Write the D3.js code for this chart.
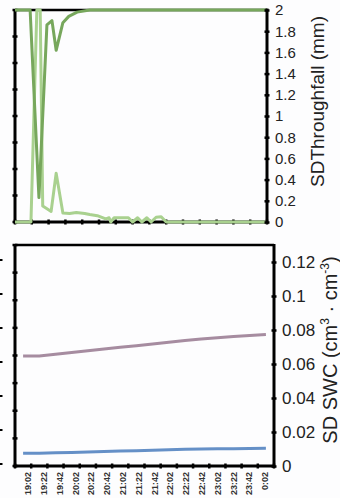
<!DOCTYPE html>
<html>
<head>
<meta charset="utf-8">
<script src="https://cdn.jsdelivr.net/npm/d3@7"></script>
<style>
  html, body { margin: 0; padding: 0; background: #fdfdfe; }
  svg { display: block; font-family: "Liberation Sans", Arial, sans-serif; }
</style>
</head>
<body>
<svg id="chart" width="340" height="498"></svg>
<script>
// ---- Throughfall SD (top panel): minutes after 19:02 and values in mm ----
const tfDarkMinutes = [0, 18, 28.5, 38, 44, 49, 57, 64, 74, 89, 300];
const tfDarkValues  = [2.0, 2.0, 0.23, 1.86, 1.90, 1.62, 1.88, 1.94, 1.98, 2.0, 2.0];

const tfLightMinutes = [0, 19, 26, 30, 33, 39, 43, 49, 57, 65, 73, 83, 89, 98, 108, 112, 114, 118, 135, 140, 146, 151, 157, 162, 168, 174, 180, 300];
const tfLightValues  = [0, 0, 2.0, 2.0, 0.15, 0.12, 0.10, 0.46, 0.085, 0.08, 0.09, 0.08, 0.07, 0.06, 0.03, 0.04, 0, 0.04, 0.04, 0, 0.04, 0, 0.04, 0, 0.045, 0.05, 0, 0];

const tfTicks = [0, 0.2, 0.4, 0.6, 0.8, 1, 1.2, 1.4, 1.6, 1.8, 2];

// ---- Soil water content SD (bottom panel) ----
const timeLabels = ["19:02", "19:22", "19:42", "20:02", "20:22", "20:42", "21:02", "21:22",
                    "21:42", "22:02", "22:22", "22:42", "23:02", "23:22", "23:42", "0:02"];
const swcUpper = [0.0647, 0.0647, 0.0658, 0.0668, 0.0678, 0.0688, 0.0698, 0.0708,
                  0.0718, 0.0728, 0.0738, 0.0747, 0.0755, 0.0762, 0.0768, 0.0773];
const swcLower = [0.0075, 0.0075, 0.0078, 0.0080, 0.0082, 0.0085, 0.0088, 0.0090,
                  0.0092, 0.0095, 0.0098, 0.0100, 0.0101, 0.0102, 0.0103, 0.0104];
const swcTicks = [0, 0.02, 0.04, 0.06, 0.08, 0.1, 0.12];

const svg = d3.select("#chart");
const fmt = d => String(+d.toFixed(2));

const darkGreen = "#77a75c";
const lightGreen = "#a9d18f";
const mauve = "#a68ca0";
const blue = "#6590c7";

// ===================== top panel =====================
const T = { left: 15, right: 267, top: 10, bottom: 222 };
const xT = d3.scaleLinear().domain([0, 300]).range([T.left, T.right]);
const yT = d3.scaleLinear().domain([0, 2]).range([T.bottom, T.top]);
const gT = svg.append("g");

// frame
gT.append("line").attr("x1", T.left).attr("x2", T.right).attr("y1", T.top).attr("y2", T.top)
  .attr("stroke", "#000").attr("stroke-width", 2.5);
gT.append("line").attr("x1", T.left).attr("x2", T.left).attr("y1", T.top - 1).attr("y2", T.bottom + 1.5)
  .attr("stroke", "#000").attr("stroke-width", 3);
gT.append("line").attr("x1", T.left).attr("x2", T.right).attr("y1", T.bottom).attr("y2", T.bottom)
  .attr("stroke", "#000").attr("stroke-width", 3);

// left-axis tick marks (8 divisions)
const leftDivT = d3.scaleLinear().domain([0, 8]).range([T.bottom, T.top]);
gT.selectAll(".lt").data(d3.range(0, 9)).join("line")
  .attr("x1", T.left - 2.5).attr("x2", T.left + 2.5)
  .attr("y1", d => leftDivT(d)).attr("y2", d => leftDivT(d))
  .attr("stroke", "#000").attr("stroke-width", 2.5);

// bottom tick marks every 20 minutes
gT.selectAll(".bt").data(d3.range(0, 301, 20)).join("line")
  .attr("x1", d => xT(d)).attr("x2", d => xT(d))
  .attr("y1", T.bottom - 2.5).attr("y2", T.bottom + 2.5)
  .attr("stroke", "#000").attr("stroke-width", 2.5);

// series
const lineT = d3.line().x(d => xT(d[0])).y(d => yT(d[1]));
gT.append("path").datum(d3.zip(tfLightMinutes, tfLightValues))
  .attr("d", lineT).attr("fill", "none").attr("stroke", lightGreen)
  .attr("stroke-width", 3).attr("stroke-linejoin", "round");
gT.append("path").datum(d3.zip(tfDarkMinutes, tfDarkValues))
  .attr("d", lineT).attr("fill", "none").attr("stroke", darkGreen)
  .attr("stroke-width", 3).attr("stroke-linejoin", "round");

// right axis
const axT = gT.append("g").attr("transform", `translate(${T.right},0)`)
  .call(d3.axisRight(yT).tickValues(tfTicks).tickFormat(fmt).tickSize(0).tickPadding(8));
axT.select(".domain").remove();
axT.append("line").attr("x1", 0).attr("x2", 0).attr("y1", T.top - 1.5).attr("y2", T.bottom + 1.5)
  .attr("stroke", "#000").attr("stroke-width", 3);
axT.selectAll(".tick").append("line").attr("x1", -2.5).attr("x2", 2.5)
  .attr("stroke", "#000").attr("stroke-width", 2.5);
axT.selectAll(".tick text").attr("font-size", 15).attr("fill", "#222")
  .attr("font-family", "Liberation Sans, Arial, sans-serif");

svg.append("text")
  .attr("transform", `translate(324,${(T.top + 193) / 2}) rotate(-90)`)
  .attr("text-anchor", "middle").attr("font-size", 19).attr("fill", "#222")
  .text("SDThroughfall (mm)");

// ===================== bottom panel =====================
const B = { left: 15, right: 274, top: 245, bottom: 466 };
const xB = d3.scaleBand().domain(timeLabels).range([B.left, B.right]).padding(0);
const xLab = d3.scalePoint().domain(timeLabels).range([28, 265]);
const yB = d3.scaleLinear().domain([0, 0.13]).range([B.bottom, B.top]);
const gB = svg.append("g");

gB.append("line").attr("x1", B.left).attr("x2", B.right).attr("y1", B.top).attr("y2", B.top)
  .attr("stroke", "#000").attr("stroke-width", 2.5);
gB.append("line").attr("x1", B.left).attr("x2", B.left).attr("y1", B.top - 1).attr("y2", B.bottom + 1.5)
  .attr("stroke", "#000").attr("stroke-width", 3);
gB.append("line").attr("x1", B.left).attr("x2", B.right).attr("y1", B.bottom).attr("y2", B.bottom)
  .attr("stroke", "#000").attr("stroke-width", 3);
gB.append("line").attr("x1", B.right).attr("x2", B.right).attr("y1", B.top - 1).attr("y2", B.bottom + 1.5)
  .attr("stroke", "#000").attr("stroke-width", 3);

// left-axis tick marks (8 divisions)
const leftDivB = d3.scaleLinear().domain([0, 8]).range([B.bottom, B.top]);
gB.selectAll(".lt").data(d3.range(0, 9)).join("line")
  .attr("x1", B.left - 2.5).attr("x2", B.left + 2.5)
  .attr("y1", d => leftDivB(d)).attr("y2", d => leftDivB(d))
  .attr("stroke", "#000").attr("stroke-width", 2.5);

// stubs of the neighbouring axis at the page edge
gB.selectAll(".stub").data(swcTicks).join("line")
  .attr("x1", 0).attr("x2", 2.5)
  .attr("y1", d => yB(d) - 2).attr("y2", d => yB(d) - 2)
  .attr("stroke", "#000").attr("stroke-width", 2);

// category boundary ticks
const bounds = timeLabels.map(d => xB(d)).concat([B.right]);
gB.selectAll(".bt").data(bounds).join("line")
  .attr("x1", d => d).attr("x2", d => d)
  .attr("y1", B.bottom - 2.5).attr("y2", B.bottom + 2.5)
  .attr("stroke", "#000").attr("stroke-width", 2.5);

// time labels
gB.selectAll(".xl").data(timeLabels).join("text")
  .attr("transform", d => `translate(${xLab(d)},472) rotate(-90)`)
  .attr("text-anchor", "end").attr("dy", "0.35em")
  .attr("font-size", 9).attr("font-weight", "bold").attr("fill", "#333")
  .text(d => d);

// series
const lineB = d3.line().x(d => xB(d[0]) + xB.bandwidth() / 2).y(d => yB(d[1]));
gB.append("path").datum(d3.zip(timeLabels, swcUpper))
  .attr("d", lineB).attr("fill", "none").attr("stroke", mauve).attr("stroke-width", 3);
gB.append("path").datum(d3.zip(timeLabels, swcLower))
  .attr("d", lineB).attr("fill", "none").attr("stroke", blue).attr("stroke-width", 3);

// right axis
const axB = gB.append("g").attr("transform", `translate(${B.right},0)`)
  .call(d3.axisRight(yB).tickValues(swcTicks).tickFormat(fmt).tickSize(0).tickPadding(8));
axB.select(".domain").remove();
axB.selectAll(".tick").append("line").attr("x1", -2.5).attr("x2", 2.5)
  .attr("stroke", "#000").attr("stroke-width", 2.5);
axB.selectAll(".tick text").attr("font-size", 17).attr("fill", "#222")
  .attr("font-family", "Liberation Sans, Arial, sans-serif");

const swcTitle = svg.append("text")
  .attr("transform", `translate(337,350) rotate(-90)`)
  .attr("text-anchor", "middle").attr("font-size", 20).attr("fill", "#222");
swcTitle.append("tspan").text("SD SWC (cm");
swcTitle.append("tspan").attr("font-size", 12).attr("dy", "-0.7em").text("3");
swcTitle.append("tspan").attr("dy", "0.42em").text(" · cm");
swcTitle.append("tspan").attr("font-size", 12).attr("dy", "-0.7em").text("-3");
swcTitle.append("tspan").attr("dy", "0.42em").text(")");
</script>
</body>
</html>
